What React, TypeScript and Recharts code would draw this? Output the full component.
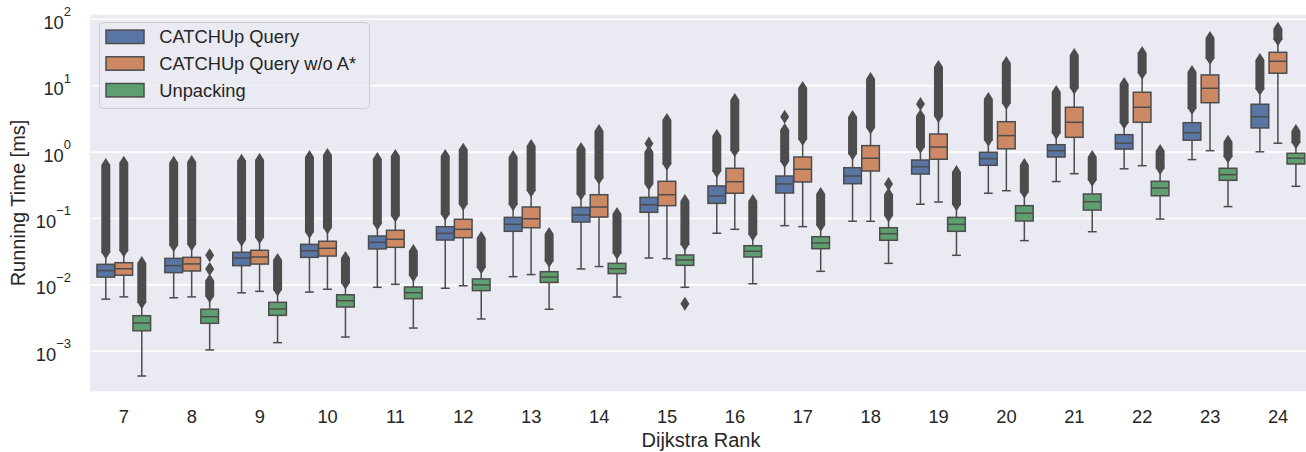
import React from 'react';
import { ComposedChart, Bar, XAxis, YAxis, CartesianGrid, Legend } from 'recharts';

// Dijkstra ranks on the x axis
const ranks = [7, 8, 9, 10, 11, 12, 13, 14, 15, 16, 17, 18, 19, 20, 21, 22, 23, 24];

// running times in ms
const queryWhiskerLow = [0.0061, 0.0064, 0.0076, 0.0078, 0.0092, 0.0089, 0.0133, 0.0174, 0.0254, 0.06, 0.078, 0.091, 0.164, 0.24, 0.36, 0.56, 0.77, 1.01];
const queryQ1 = [0.0131, 0.0153, 0.0195, 0.026, 0.0348, 0.0474, 0.0641, 0.0885, 0.124, 0.169, 0.242, 0.334, 0.467, 0.632, 0.843, 1.11, 1.51, 2.31];
const queryMedian = [0.0164, 0.0195, 0.0254, 0.0327, 0.0438, 0.0598, 0.0818, 0.113, 0.161, 0.218, 0.331, 0.436, 0.602, 0.796, 1.05, 1.36, 1.96, 3.41];
const queryQ3 = [0.0204, 0.0251, 0.031, 0.0408, 0.0545, 0.0752, 0.104, 0.147, 0.208, 0.309, 0.436, 0.582, 0.759, 0.993, 1.29, 1.83, 2.77, 5.25];
const queryWhiskerHigh = [0.031, 0.04, 0.048, 0.063, 0.084, 0.117, 0.164, 0.235, 0.334, 0.52, 0.73, 0.95, 1.2, 1.53, 1.96, 2.8, 4.6, 9.0];
const queryOutlierMax = [0.64, 0.69, 0.74, 0.84, 0.79, 0.87, 0.84, 1.11, 1.0, 1.75, 2.15, 3.38, 3.5, 6.3, 8.0, 10.6, 16.1, 24.4];

const noAStarWhiskerLow = [0.0066, 0.0066, 0.008, 0.0086, 0.0102, 0.0097, 0.0143, 0.0189, 0.0248, 0.0687, 0.0754, 0.0907, 0.177, 0.262, 0.473, 0.624, 1.05, 1.36];
const noAStarQ1 = [0.014, 0.0162, 0.0206, 0.0272, 0.0368, 0.0514, 0.0726, 0.105, 0.156, 0.24, 0.355, 0.519, 0.78, 1.12, 1.67, 2.81, 5.54, 15.4];
const noAStarMedian = [0.0175, 0.0207, 0.0263, 0.0356, 0.0486, 0.0687, 0.099, 0.149, 0.228, 0.358, 0.551, 0.807, 1.19, 1.77, 2.81, 4.73, 9.14, 23.3];
const noAStarQ3 = [0.0216, 0.026, 0.0332, 0.0454, 0.0664, 0.0973, 0.149, 0.228, 0.363, 0.57, 0.843, 1.25, 1.87, 2.87, 4.73, 7.96, 14.5, 31.8];
const noAStarWhiskerHigh = [0.033, 0.041, 0.052, 0.073, 0.111, 0.166, 0.264, 0.41, 0.67, 1.07, 1.57, 2.35, 3.5, 5.5, 9.3, 15.7, 26, 50];
const noAStarOutlierMax = [0.69, 0.71, 0.76, 0.9, 0.87, 1.08, 1.24, 2.08, 3.03, 6.1, 9.2, 12.6, 19.1, 22.0, 29, 31, 52, 72];

const unpackWhiskerLow = [0.000425, 0.00105, 0.00135, 0.00164, 0.00224, 0.00307, 0.0043, 0.00658, 0.0092, 0.0104, 0.016, 0.0211, 0.0279, 0.0464, 0.0632, 0.098, 0.151, 0.305];
const unpackQ1 = [0.00204, 0.00264, 0.00348, 0.00465, 0.0062, 0.0082, 0.0109, 0.0148, 0.0197, 0.0263, 0.0351, 0.047, 0.0641, 0.0917, 0.134, 0.22, 0.376, 0.662];
const unpackMedian = [0.00267, 0.00332, 0.00434, 0.00578, 0.00763, 0.01, 0.0131, 0.0175, 0.0237, 0.0321, 0.0428, 0.059, 0.0818, 0.12, 0.179, 0.288, 0.457, 0.807];
const unpackQ3 = [0.00344, 0.0043, 0.00547, 0.0071, 0.0093, 0.0123, 0.0158, 0.0211, 0.0282, 0.0389, 0.0532, 0.0726, 0.104, 0.156, 0.234, 0.363, 0.57, 0.96];
const unpackWhiskerHigh = [0.0055, 0.0068, 0.0085, 0.0108, 0.014, 0.0185, 0.0232, 0.0306, 0.041, 0.058, 0.08, 0.111, 0.164, 0.252, 0.384, 0.578, 0.86, 1.41];
const unpackOutlierMax = [0.0214, 0.0115, 0.0237, 0.0254, 0.0323, 0.0508, 0.0584, 0.117, 0.184, 0.184, 0.234, 0.23, 0.5, 0.64, 0.84, 1.04, 1.43, 2.08];

// single outliers that stand apart from the dense flier columns
const isolatedFliers = [
  { rank: 8, series: 'unpacking', value: 0.0174 },
  { rank: 8, series: 'unpacking', value: 0.028 },
  { rank: 15, series: 'query', value: 1.35 },
  { rank: 15, series: 'unpacking', value: 0.0052 },
  { rank: 17, series: 'query', value: 3.4 },
  { rank: 18, series: 'unpacking', value: 0.33 },
  { rank: 19, series: 'query', value: 5.3 },
];

const yTicks = [0.001, 0.01, 0.1, 1, 10, 100];

const FONT = '"Liberation Sans", Arial, sans-serif';
const TEXT = '#262626';
const EDGE = '#4c4c4c';

const seriesList = [
  { key: 'query', name: 'CATCHUp Query', color: '#5975A4', lo: queryWhiskerLow, q1: queryQ1, med: queryMedian, q3: queryQ3, hi: queryWhiskerHigh, out: queryOutlierMax },
  { key: 'noAStar', name: 'CATCHUp Query w/o A*', color: '#CC8963', lo: noAStarWhiskerLow, q1: noAStarQ1, med: noAStarMedian, q3: noAStarQ3, hi: noAStarWhiskerHigh, out: noAStarOutlierMax },
  { key: 'unpacking', name: 'Unpacking', color: '#5F9E6E', lo: unpackWhiskerLow, q1: unpackQ1, med: unpackMedian, q3: unpackQ3, hi: unpackWhiskerHigh, out: unpackOutlierMax },
];

const rows = ranks.map((rank, i) => {
  const row: any = { rank: String(rank) };
  seriesList.forEach((s) => {
    const fliers = isolatedFliers.filter((f) => f.rank === rank && f.series === s.key).map((f) => f.value);
    const all = [s.lo[i], s.out[i], ...fliers];
    row[s.key] = {
      lo: s.lo[i], q1: s.q1[i], med: s.med[i], q3: s.q3[i], hi: s.hi[i], out: s.out[i], fliers,
      range: [Math.min(...all), Math.max(...all)],
    };
  });
  return row;
});

// box + whiskers + flier column, positioned inside the bar rect the log axis gives us
const makeBoxShape = (key: string, color: string) => (props: any) => {
  const { x, y, width, height, payload } = props;
  const b = payload[key];
  const l0 = Math.log10(b.range[0]);
  const l1 = Math.log10(b.range[1]);
  const py = (v: number) => y + height - ((Math.log10(v) - l0) / (l1 - l0)) * height;
  const cx = x + width / 2;
  const bw = width * 0.98;
  const cap = bw / 2;
  const hw = 4.5;
  const hh = 7;
  const yLo = py(b.lo), yQ1 = py(b.q1), yMed = py(b.med), yQ3 = py(b.q3), yHi = py(b.hi), yOut = py(b.out);
  const column = b.out > b.hi
    ? `M${cx},${yOut - hh} L${cx + hw},${yOut} L${cx + hw},${yHi} L${cx},${yHi + hh} L${cx - hw},${yHi} L${cx - hw},${yOut} Z`
    : null;
  return (
    <g>
      <line x1={cx} x2={cx} y1={yLo} y2={yQ1} stroke={EDGE} strokeWidth={1.5} />
      <line x1={cx} x2={cx} y1={yQ3} y2={yHi} stroke={EDGE} strokeWidth={1.5} />
      <line x1={cx - cap / 2} x2={cx + cap / 2} y1={yLo} y2={yLo} stroke={EDGE} strokeWidth={1.5} />
      <line x1={cx - cap / 2} x2={cx + cap / 2} y1={yHi} y2={yHi} stroke={EDGE} strokeWidth={1.5} />
      <rect x={cx - bw / 2} y={yQ3} width={bw} height={yQ1 - yQ3} fill={color} stroke={EDGE} strokeWidth={1.5} />
      <line x1={cx - bw / 2} x2={cx + bw / 2} y1={yMed} y2={yMed} stroke={EDGE} strokeWidth={1.5} />
      {column && <path d={column} fill={EDGE} />}
      {b.fliers.map((v: number, j: number) => {
        const yv = py(v);
        return <path key={j} d={`M${cx},${yv - hh} L${cx + hw},${yv} L${cx},${yv + hh} L${cx - hw},${yv} Z`} fill={EDGE} />;
      })}
    </g>
  );
};

const YTick = (props: any) => {
  const { x, y, payload } = props;
  const exp = Math.round(Math.log10(payload.value));
  return (
    <text x={x} y={y + 9.5} textAnchor="end" fontFamily={FONT} fontSize={18.3} fill={TEXT}>
      10
      <tspan dy={-12.5} fontSize={13}>{exp < 0 ? `\u2212${-exp}` : exp}</tspan>
    </text>
  );
};

const XTick = (props: any) => {
  const { x, y, payload } = props;
  return (
    <text x={x} y={y} textAnchor="middle" fontFamily={FONT} fontSize={18.3} fill={TEXT}>
      {payload.value}
    </text>
  );
};

const LegendBox = () => (
  <svg width={272} height={88} style={{ display: 'block' }}>
    <rect x={0.5} y={0.5} width={270} height={86} rx={4} fill="#EAEAF2" fillOpacity={0.8} stroke="#cccccc" />
    {seriesList.map((s, i) => {
      const cy = 14.8 + i * 26.7;
      return (
        <g key={s.key}>
          <rect x={7} y={cy - 6.7} width={38} height={13.4} fill={s.color} stroke={EDGE} strokeWidth={1.5} />
          <text x={60.3} y={cy + 6.5} fontFamily={FONT} fontSize={18.3} fill={TEXT}>{s.name}</text>
        </g>
      );
    })}
  </svg>
);

export default function App() {
  return (
    <div style={{ width: 1306, height: 452, overflow: 'hidden', background: '#fff' }}>
      <style>{'body{margin:0}'}</style>
      <ComposedChart
        width={1312}
        height={452}
        data={rows}
        margin={{ top: 14, right: 0, bottom: 0, left: 0 }}
        barCategoryGap="10%"
        barGap={0}
      >
        <CartesianGrid vertical={false} stroke="#ffffff" strokeWidth={1.6} fill="#EAEAF2" fillOpacity={1} />
        <XAxis
          dataKey="rank"
          height={60}
          axisLine={false}
          tickLine={false}
          tickSize={0}
          tickMargin={31}
          interval={0}
          tick={<XTick />}
          label={{
            content: (p: any) => {
              const vb = p.viewBox;
              return (
                <text x={vb.x + vb.width / 2} y={447} textAnchor="middle" fontFamily={FONT} fontSize={20} fill={TEXT}>
                  Dijkstra Rank
                </text>
              );
            },
          }}
        />
        <YAxis
          type="number"
          scale="log"
          domain={[0.000244, 120]}
          allowDataOverflow
          ticks={yTicks}
          interval={0}
          width={90}
          axisLine={false}
          tickLine={false}
          tickSize={0}
          tickMargin={19}
          tick={<YTick />}
          label={{
            content: (p: any) => {
              const vb = p.viewBox;
              const cy = vb.y + vb.height / 2;
              return (
                <text x={25} y={cy} transform={`rotate(-90, 25, ${cy})`} textAnchor="middle" fontFamily={FONT} fontSize={20} fill={TEXT}>
                  Running Time [ms]
                </text>
              );
            },
          }}
        />
        <Legend
          layout="vertical"
          align="center"
          verticalAlign="middle"
          wrapperStyle={{ left: 99, top: 22, width: 272, height: 88 }}
          content={() => <LegendBox />}
        />
        {seriesList.map((s) => (
          <Bar
            key={s.key}
            name={s.name}
            dataKey={(r: any) => r[s.key].range}
            fill={s.color}
            shape={makeBoxShape(s.key, s.color)}
            isAnimationActive={false}
          />
        ))}
      </ComposedChart>
    </div>
  );
}
